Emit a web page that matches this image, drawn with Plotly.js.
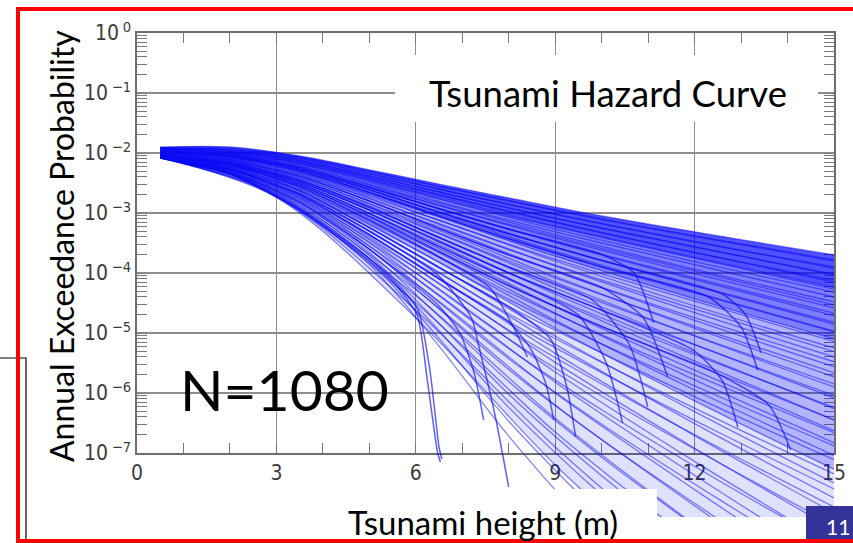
<!DOCTYPE html>
<html>
<head>
<meta charset="utf-8">
<script src="https://cdn.plot.ly/plotly-3.0.1.min.js"></script>
<style>html,body{margin:0;padding:0;background:#fff;}#chart{width:853px;height:543px;}</style>
</head>
<body>
<div id="chart"></div>
<script>
// Tsunami heights (m) at which the hazard curves were read
const X = [0.5, 2, 3.5, 5, 6.5, 8, 10, 12.5, 15];
const X6 = [0.5, 3, 6, 9, 12, 15];

// log10(annual exceedance probability), upper family
const crvUpper = [
  [-1.90,-1.90,-2.05,-2.28,-2.52,-2.75,-3.05,-3.38,-3.70],
  [-1.91,-1.92,-2.07,-2.31,-2.56,-2.80,-3.11,-3.46,-3.80],
  [-1.93,-1.94,-2.09,-2.34,-2.60,-2.86,-3.18,-3.55,-3.92],
  [-1.92,-1.95,-2.12,-2.38,-2.65,-2.92,-3.25,-3.64,-4.03],
  [-1.95,-1.97,-2.14,-2.41,-2.70,-2.98,-3.33,-3.74,-4.15],
  [-1.94,-1.98,-2.17,-2.45,-2.76,-3.05,-3.41,-3.84,-4.27],
  [-1.97,-2.00,-2.19,-2.49,-2.81,-3.12,-3.50,-3.95,-4.40],
  [-1.96,-2.01,-2.22,-2.53,-2.87,-3.19,-3.59,-4.06,-4.53],
  [-1.99,-2.03,-2.24,-2.57,-2.93,-3.27,-3.69,-4.18,-4.67],
  [-1.98,-2.04,-2.27,-2.61,-2.99,-3.35,-3.79,-4.31,-4.82],
  [-2.00,-2.06,-2.30,-2.66,-3.05,-3.43,-3.90,-4.44,-4.98],
  [-2.01,-2.08,-2.33,-2.70,-3.12,-3.52,-4.01,-4.58,-5.14],
  [-2.02,-2.10,-2.36,-2.75,-3.19,-3.61,-4.12,-4.72,-5.31],
  [-2.03,-2.12,-2.39,-2.80,-3.26,-3.70,-4.24,-4.87,-5.48]
];
// middle family
const crvMiddle = [
  [-2.03,-2.13,-2.42,-2.85,-3.33,-3.80,-4.36,-5.02,-5.66],
  [-2.04,-2.15,-2.45,-2.90,-3.41,-3.90,-4.49,-5.18,-5.85],
  [-2.05,-2.17,-2.48,-2.95,-3.48,-4.00,-4.62,-5.34,-6.04],
  [-2.05,-2.18,-2.51,-3.01,-3.56,-4.10,-4.75,-5.51,-6.24],
  [-2.06,-2.20,-2.54,-3.06,-3.64,-4.21,-4.89,-5.68,-6.45],
  [-2.06,-2.21,-2.57,-3.12,-3.73,-4.32,-5.03,-5.86,-6.66],
  [-2.07,-2.23,-2.60,-3.18,-3.82,-4.44,-5.18,-6.05,-6.88],
  [-2.07,-2.24,-2.63,-3.24,-3.91,-4.56,-5.33,-6.24,-7.11],
  [-2.07,-2.26,-2.67,-3.30,-4.00,-4.68,-5.49,-6.44,-7.35],
  [-2.08,-2.27,-2.70,-3.36,-4.10,-4.81,-5.66,-6.65,-7.60]
];
// lower (steep) family
const crvLower = [
  [-2.08,-2.28,-2.72,-3.40,-4.18,-4.95,-5.85,-6.90,-7.90],
  [-2.08,-2.29,-2.74,-3.45,-4.28,-5.10,-6.05,-7.15,-8.20],
  [-2.08,-2.30,-2.76,-3.50,-4.38,-5.26,-6.28,-7.45,-8.55],
  [-2.08,-2.31,-2.79,-3.55,-4.49,-5.43,-6.52,-7.76,-8.95],
  [-2.08,-2.32,-2.82,-3.60,-4.60,-5.61,-6.78,-8.10,-9.40],
  [-2.08,-2.33,-2.85,-3.66,-4.72,-5.81,-7.07,-8.50,-9.90],
  [-2.08,-2.34,-2.88,-3.71,-4.84,-6.02,-7.38,-8.90,-10.4],
  [-2.08,-2.34,-2.91,-3.76,-4.96,-6.24,-7.70,-9.30,-11.0],
  [-2.08,-2.35,-2.94,-3.81,-5.09,-6.47,-8.05,-9.80,-11.5],
  [-2.08,-2.35,-2.97,-3.86,-5.22,-6.72,-8.45,-10.3,-12.0]
];
// further curves of the bundle, read at 0.5, 3, 6, 9, 12, 15 m
const crvExtra = [
  [-1.91,-2.01,-2.47,-2.95,-3.38,-3.78],
  [-1.93,-2.04,-2.52,-3.02,-3.48,-3.90],
  [-1.92,-2.06,-2.56,-3.09,-3.57,-4.02],
  [-1.95,-2.08,-2.60,-3.15,-3.66,-4.12],
  [-1.94,-2.10,-2.64,-3.22,-3.74,-4.24],
  [-1.96,-2.12,-2.67,-3.27,-3.81,-4.32],
  [-1.97,-2.14,-2.73,-3.36,-3.94,-4.48],
  [-1.96,-2.16,-2.77,-3.42,-4.01,-4.58],
  [-1.99,-2.18,-2.81,-3.49,-4.11,-4.71],
  [-1.98,-2.19,-2.86,-3.57,-4.22,-4.85],
  [-2.00,-2.21,-2.90,-3.64,-4.32,-4.97],
  [-2.01,-2.23,-2.94,-3.72,-4.43,-5.10],
  [-2.02,-2.25,-2.99,-3.80,-4.55,-5.25],
  [-2.03,-2.27,-3.04,-3.88,-4.66,-5.40],
  [-2.03,-2.29,-3.09,-3.97,-4.79,-5.56],
  [-2.04,-2.31,-3.14,-4.06,-4.92,-5.73],
  [-2.05,-2.33,-3.19,-4.15,-5.05,-5.90],
  [-2.05,-2.35,-3.24,-4.25,-5.19,-6.08],
  [-2.06,-2.37,-3.29,-4.35,-5.33,-6.26],
  [-2.06,-2.39,-3.35,-4.45,-5.47,-6.45],
  [-2.07,-2.41,-3.41,-4.56,-5.62,-6.63],
  [-2.07,-2.43,-3.47,-4.67,-5.78,-6.83],
  [-2.07,-2.46,-3.54,-4.79,-5.95,-7.04],
  [-2.08,-2.48,-3.61,-4.92,-6.13,-7.27],
  [-2.08,-2.50,-3.68,-5.05,-6.31,-7.50],
  [-2.08,-2.52,-3.76,-5.19,-6.51,-7.75],
  [-2.08,-2.55,-3.84,-5.34,-6.71,-8.00],
  [-2.08,-2.57,-3.92,-5.49,-6.92,-8.27],
  [-2.08,-2.59,-4.00,-5.65,-7.14,-8.55],
  [-2.08,-2.61,-4.09,-5.82,-7.37,-8.85],
  [-2.08,-2.63,-4.18,-6.00,-7.61,-9.15],
  [-2.08,-2.66,-4.28,-6.20,-7.88,-9.50],
  [-2.08,-2.68,-4.38,-6.42,-8.20,-9.90],
  [-2.08,-2.70,-4.50,-6.65,-8.50,-10.3],
  [-2.08,-2.72,-4.62,-6.90,-8.90,-10.8],
  [-2.08,-2.74,-4.75,-7.20,-9.30,-11.3]
];

// curves that drop sharply at their maximum height (the "spikes")
const spikeX = [
  [0.5,2,3.5,5,5.6,6.03,6.25,6.47,6.53],
  [0.5,2,3.5,5,5.6,6.05,6.30,6.50,6.56],
  [0.5,2,3.5,5,6.5,7.2,7.35,7.7,8.0],
  [0.5,2,3.5,5,6.5,6.95,7.25,7.46],
  [0.5,2,3.5,5,6.5,7.6,8.1,8.4],
  [0.5,2,3.5,5,6.5,8,8.5,8.8,8.97],
  [0.5,2,3.5,5,6.5,8,8.9,9.25,9.44],
  [0.5,2,3.5,5,6.5,8,9.5,10.1,10.45],
  [0.5,2,3.5,5,6.5,8,9.8,10.6,10.99],
  [0.5,2,3.5,5,6.5,8,10,10.7,11.12],
  [0.5,2,3.5,5,6.5,8,10,10.9,11.42],
  [0.5,2,3.5,5,6.5,8,10,12.0,12.6,12.93],
  [0.5,2,3.5,5,6.5,8,10,12.3,13.0,13.36],
  [0.5,2,3.5,5,6.5,8,10,12.6,13.1,13.43],
  [0.5,2,3.5,5,6.5,8,10,12.5,13.6,14.07]
];
const spikeY = [
  [-2.08,-2.35,-2.95,-3.80,-4.23,-4.70,-5.80,-7.00,-7.15],
  [-2.07,-2.34,-2.93,-3.76,-4.18,-4.62,-5.60,-6.90,-7.10],
  [-2.07,-2.27,-2.68,-3.30,-4.05,-4.75,-5.20,-6.35,-7.57],
  [-2.08,-2.32,-2.82,-3.60,-4.55,-5.00,-5.65,-6.45],
  [-2.05,-2.20,-2.57,-3.12,-3.73,-4.25,-4.90,-5.40],
  [-2.07,-2.27,-2.70,-3.36,-4.10,-4.81,-5.30,-5.85,-6.45],
  [-2.06,-2.24,-2.63,-3.24,-3.91,-4.56,-5.10,-5.90,-6.73],
  [-2.05,-2.18,-2.51,-3.01,-3.56,-4.10,-4.70,-5.50,-6.50],
  [-2.04,-2.15,-2.45,-2.90,-3.41,-3.90,-4.45,-5.20,-6.23],
  [-1.98,-2.03,-2.24,-2.57,-2.93,-3.27,-3.69,-4.00,-4.83],
  [-2.03,-2.12,-2.39,-2.80,-3.26,-3.70,-4.24,-4.75,-5.73],
  [-2.05,-2.17,-2.48,-2.95,-3.48,-4.00,-4.62,-5.30,-5.80,-6.57],
  [-2.00,-2.06,-2.30,-2.66,-3.05,-3.43,-3.90,-4.40,-4.90,-5.62],
  [-1.99,-2.04,-2.27,-2.61,-2.99,-3.35,-3.79,-4.35,-4.70,-5.33],
  [-2.06,-2.20,-2.54,-3.06,-3.64,-4.21,-4.89,-5.68,-6.20,-6.95]
];

const xTickVals = [0, 3, 6, 9, 12, 15];
const xTickText = ['0', '3', '6', '9', '12', '15'];
const yTickVals = [1e-7, 1e-6, 1e-5, 1e-4, 1e-3, 1e-2, 1e-1, 1];
const yTickText = ['10\u2009<sup>−7</sup>','10\u2009<sup>−6</sup>','10\u2009<sup>−5</sup>','10\u2009<sup>−4</sup>',
                   '10\u2009<sup>−3</sup>','10\u2009<sup>−2</sup>','10\u2009<sup>−1</sup>','10\u2009<sup>0</sup>'];

const titleText = 'Tsunami Hazard Curve';
const countText = 'N=1080';
const xTitleText = 'Tsunami height (m)';
const yTitleText = 'Annual Exceedance Probability';
const pageNumber = '11';

const toP = v => Math.pow(10, v);
const W = 853, H = 543;
const px = v => v / W;
const py = v => 1 - v / H;

const traces = [];
traces.push({x: [], y: [], xaxis: 'x', yaxis: 'y', type: 'scatter', mode: 'lines', hoverinfo: 'skip'});

// shaded density layers: between the top curve and a lower curve of the bundle
const topCurve = crvUpper[0];
const shadeLayers = [
  {row: crvExtra[35], alpha: 0.12},
  {row: crvExtra[23], alpha: 0.20},
  {row: crvExtra[11], alpha: 0.30},
  {row: crvExtra[4],  alpha: 0.35}
];
shadeLayers.forEach(s => {
  traces.push({x: X, y: topCurve.map(toP), xaxis: 'x2', yaxis: 'y2', type: 'scatter', mode: 'lines',
               line: {width: 0, shape: 'spline', smoothing: 0.9}, hoverinfo: 'skip'});
  traces.push({x: X6, y: s.row.map(toP), xaxis: 'x2', yaxis: 'y2', type: 'scatter', mode: 'lines',
               fill: 'tonexty', fillcolor: 'rgba(0,0,255,' + s.alpha + ')',
               line: {width: 0, shape: 'spline', smoothing: 0.9}, hoverinfo: 'skip'});
});

const lineStyle = {color: 'rgba(10,10,245,0.5)', width: 1.3, shape: 'spline', smoothing: 0.9};
[crvUpper, crvMiddle, crvLower].forEach(group => group.forEach(row => {
  traces.push({x: X, y: row.map(toP), xaxis: 'x2', yaxis: 'y2', type: 'scatter', mode: 'lines', line: lineStyle, hoverinfo: 'skip'});
}));
crvExtra.forEach(row => {
  traces.push({x: X6, y: row.map(toP), xaxis: 'x2', yaxis: 'y2', type: 'scatter', mode: 'lines', line: lineStyle, hoverinfo: 'skip'});
});
spikeX.forEach((xs, i) => {
  traces.push({x: xs, y: spikeY[i].map(toP), xaxis: 'x2', yaxis: 'y2', type: 'scatter', mode: 'lines',
               line: {color: 'rgba(10,10,245,0.65)', width: 1.5, shape: 'spline', smoothing: 0.6}, hoverinfo: 'skip'});
});

const tickFont = {family: 'Liberation Sans Narrow, DejaVu Sans Condensed, sans-serif', size: 21, color: '#3c3c3c'};
const xDom = [px(137), px(834)];
const layout = {
  width: W, height: H,
  margin: {l: 0, r: 0, t: 0, b: 0},
  paper_bgcolor: '#ffffff', plot_bgcolor: 'rgba(0,0,0,0)',
  showlegend: false,
  xaxis: {domain: xDom, range: [0, 15], anchor: 'y', tickmode: 'array', tickvals: xTickVals, ticktext: xTickText,
          showgrid: true, gridcolor: '#8e8e8e', gridwidth: 1.3, zeroline: false,
          showline: true, linecolor: '#6e6e6e', linewidth: 1.6, mirror: 'ticks',
          ticks: 'inside', ticklen: 10, tickcolor: '#7a7a7a', tickwidth: 1,
          minor: {dtick: 1, ticks: 'inside', ticklen: 10, tickcolor: '#7a7a7a', tickwidth: 1, showgrid: false},
          tickfont: tickFont, fixedrange: true},
  yaxis: {type: 'log', domain: [py(453), py(33)], range: [-7, 0], anchor: 'x', tickmode: 'array',
          tickvals: yTickVals, ticktext: yTickText,
          showgrid: true, gridcolor: '#8e8e8e', gridwidth: 1.3, zeroline: false,
          showline: true, linecolor: '#6e6e6e', linewidth: 1.6, mirror: 'ticks',
          ticks: 'inside', ticklen: 10, tickcolor: '#7a7a7a', tickwidth: 1,
          minor: {dtick: 'D1', ticks: 'inside', ticklen: 10, tickcolor: '#7a7a7a', tickwidth: 1, showgrid: false},
          tickfont: tickFont, fixedrange: true},
  xaxis2: {domain: xDom, range: [0, 15], anchor: 'y2', visible: false, fixedrange: true},
  yaxis2: {type: 'log', domain: [py(517), py(33)], range: [-(517 - 33) / 60, 0], anchor: 'x2', visible: false, fixedrange: true},
  shapes: [
    {type: 'rect', xref: 'paper', yref: 'paper', x0: px(395), x1: px(818), y0: py(122), y1: py(55),
     fillcolor: '#ffffff', line: {width: 0}, layer: 'above'},
    {type: 'rect', xref: 'paper', yref: 'paper', x0: px(300), x1: px(657), y0: py(543), y1: py(489),
     fillcolor: '#ffffff', line: {width: 0}, layer: 'above'},
    {type: 'rect', xref: 'paper', yref: 'paper', x0: px(806), x1: px(860), y0: py(550), y1: py(506),
     fillcolor: '#333399', line: {width: 0}, layer: 'above'},
    {type: 'path', xref: 'paper', yref: 'paper',
     path: 'M 0 ' + py(358) + ' L ' + px(26) + ' ' + py(358) + ' L ' + px(26) + ' ' + py(545),
     line: {color: '#000000', width: 1.2}, layer: 'above'},
    {type: 'rect', xref: 'paper', yref: 'paper', x0: px(18), x1: px(870), y0: py(541), y1: py(9),
     fillcolor: 'rgba(0,0,0,0)', line: {color: '#ff0000', width: 4}, layer: 'above'}
  ],
  annotations: [
    {text: titleText, xref: 'paper', yref: 'paper', x: px(608), y: py(93), xanchor: 'center', yanchor: 'middle',
     showarrow: false, font: {family: 'Lato, sans-serif', size: 36.5, color: '#000'}},
    {text: countText, xref: 'paper', yref: 'paper', x: px(284), y: py(389), xanchor: 'center', yanchor: 'middle',
     showarrow: false, font: {family: 'Lato, sans-serif', size: 57, color: '#000'}},
    {text: xTitleText, xref: 'paper', yref: 'paper', x: px(483), y: py(522), xanchor: 'center', yanchor: 'middle',
     showarrow: false, font: {family: 'Lato, sans-serif', size: 33, color: '#000'}},
    {text: yTitleText, xref: 'paper', yref: 'paper', x: px(62), y: py(246), xanchor: 'center', yanchor: 'middle',
     textangle: -90, showarrow: false, font: {family: 'Lato, sans-serif', size: 32, color: '#000'}},
    {text: pageNumber, xref: 'paper', yref: 'paper', x: px(838), y: py(526), xanchor: 'center', yanchor: 'middle',
     showarrow: false, font: {family: 'Lato, sans-serif', size: 21, color: '#ffffff'}}
  ]
};
Plotly.newPlot('chart', traces, layout, {staticPlot: true, displayModeBar: false});
</script>
</body>
</html>
